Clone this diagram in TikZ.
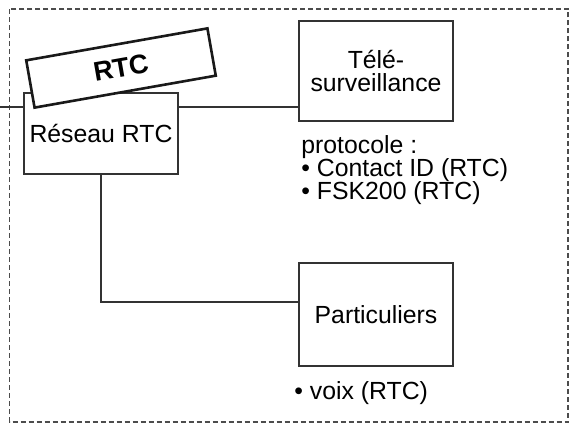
\documentclass[tikz,border=0pt]{standalone}
\usepackage{fontspec}
\setmainfont{Liberation Sans}
\usetikzlibrary{positioning, calc, shapes}

\begin{document}
\begin{tikzpicture}[
    x=0.5pt, y=-0.5pt, % one unit is one pixel of the drawing
    font=\fontsize{12.4}{11.4}\selectfont\setlength{\lineskiplimit}{-5pt},
    % Styles
    box/.style={ % Plain boxes
        rectangle,
        draw=black!80,
        fill=white,
        line width=0.8pt,
        minimum width=77pt,
        inner sep=2pt
    },
    tag/.style={ % Tilted label
        rectangle,
        draw=black!90,
        fill=white,
        line width=1.3pt,
        minimum width=92pt,
        minimum height=24pt,
        rotate=10,
        font=\fontsize{13.5}{13.5}\selectfont\bfseries
    },
    wire/.style={
        line width=0.8pt,
        black!80
    },
    frame/.style={ % Dashed outline
        draw=black!70,
        line width=0.6pt,
        dash pattern=on 2.5pt off 1.5pt
    }
]
    \useasboundingbox (0,0) rectangle (573,428);

    % Dashed outline
    \draw[frame] (9.5,9) rectangle (568,422);

    % Boxes
    \node[box, minimum height=40.5pt] (reseau) at (101,133.5) {Réseau RTC};
    \node[box, minimum height=50pt, align=center] (tele) at (376,71) {Télé-\\surveillance};
    \node[box, minimum height=51.5pt] (partic) at (376,314.5) {Particuliers};

    % Incoming line
    \coordinate (entree) at (0,107);
    \draw[wire] (entree) -- (entree -| reseau.west);
    \draw[wire] (entree -| reseau.east) -- (entree -| tele.west);
    \draw[wire] (reseau.south) |- ([yshift=6.25pt]partic.west);

    % Tilted label
    \node[tag] (rtc) at (121,68) {RTC};

    % Notes (base is the last line)
    \node[anchor=base west, align=left, inner sep=0pt] (proto) at (301,199.5) {protocole :\\• Contact ID (RTC)\\• FSK200 (RTC)};
    \node[anchor=base west, inner sep=0pt] (voix) at (294,399.5) {• voix (RTC)};
\end{tikzpicture}
\end{document}
